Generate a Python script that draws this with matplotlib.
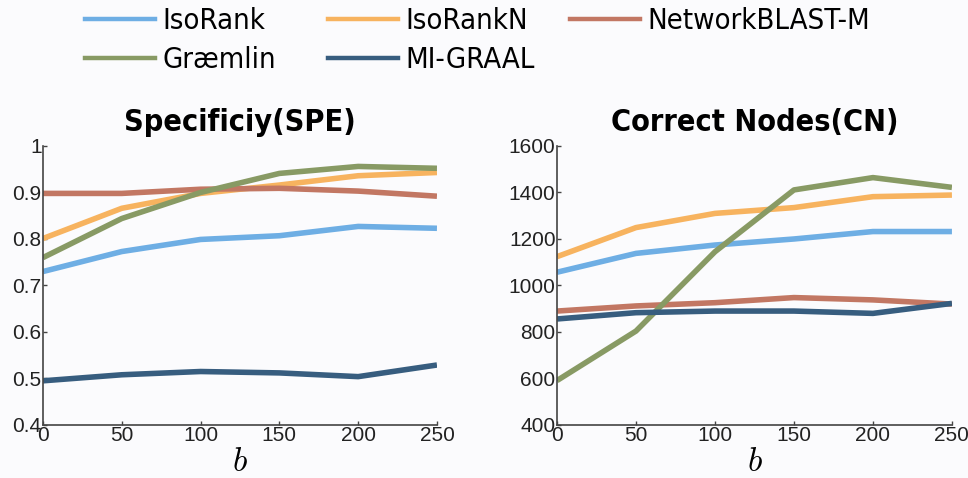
import matplotlib
matplotlib.use("Agg")
import matplotlib.pyplot as plt
from matplotlib.lines import Line2D
from matplotlib import font_manager as fm

b = [0, 50, 100, 150, 200, 250]
methods = ["IsoRank", "IsoRankN", "NetworkBLAST-M", "Græmlin", "MI-GRAAL"]
colors = ["#6eaee4", "#f7b35f", "#c27763", "#889a64", "#375d7f"]

spe_isorank = [0.730, 0.773, 0.799, 0.807, 0.827, 0.823]
spe_isorankn = [0.801, 0.866, 0.898, 0.916, 0.936, 0.943]
spe_nblast = [0.898, 0.898, 0.907, 0.909, 0.903, 0.892]
spe_graemlin = [0.760, 0.844, 0.900, 0.941, 0.956, 0.952]
spe_migraal = [0.495, 0.508, 0.515, 0.512, 0.504, 0.529]

cn_isorank = [1057, 1138, 1174, 1200, 1232, 1232]
cn_isorankn = [1124, 1249, 1310, 1335, 1382, 1389]
cn_nblast = [890, 912, 926, 948, 938, 920]
cn_graemlin = [591, 804, 1145, 1411, 1464, 1422]
cn_migraal = [856, 883, 890, 890, 880, 923]

spe = [spe_isorank, spe_isorankn, spe_nblast, spe_graemlin, spe_migraal]
cn = [cn_isorank, cn_isorankn, cn_nblast, cn_graemlin, cn_migraal]

spe_ticks = [0.4, 0.5, 0.6, 0.7, 0.8, 0.9, 1]
spe_ticklabels = ["0.4", "0.5", "0.6", "0.7", "0.8", "0.9", "1"]
cn_ticks = [400, 600, 800, 1000, 1200, 1400, 1600]
x_ticks = [0, 50, 100, 150, 200, 250]

plt.rcParams["mathtext.fontset"] = "cm"
tick_font = ["Liberation Sans", "DejaVu Sans"]


def is_cond(f):
    return (f.stretch in ("condensed", "semi-condensed", "extra-condensed")
            or "Narrow" in f.name or "Condensed" in f.name)


cond_path = None
cond_bold = None
for f in fm.fontManager.ttflist:
    if not is_cond(f) or f.style != "normal":
        continue
    if f.weight in ("normal", 400, "regular", "book") and cond_path is None:
        cond_path = f.fname
    if f.weight in ("bold", 700) and cond_bold is None:
        cond_bold = f.fname

if cond_path:
    leg_prop = fm.FontProperties(fname=cond_path, size=21)
else:
    leg_prop = fm.FontProperties(family=["Liberation Sans"], size=19)
if cond_bold:
    title_prop = fm.FontProperties(fname=cond_bold, size=22)
else:
    title_prop = fm.FontProperties(family=["Liberation Sans"], weight="bold", size=22)

bg = "#fbfbfd"
fig = plt.figure(figsize=(9.68, 4.78), dpi=100, facecolor=bg)
ax1 = fig.add_axes([0.0444, 0.1109, 0.407, 0.5837], facecolor=bg)
ax2 = fig.add_axes([0.5754, 0.1109, 0.408, 0.5837], facecolor=bg)

for ax, data, title, ylim, yt, ytl in [
    (ax1, spe, "Specificiy(SPE)", (0.4, 1.0), spe_ticks, spe_ticklabels),
    (ax2, cn, "Correct Nodes(CN)", (400, 1600), cn_ticks, [str(t) for t in cn_ticks]),
]:
    for i in range(len(methods)):
        ax.plot(b, data[i], color=colors[i], lw=4, solid_capstyle="butt",
                solid_joinstyle="round", label=methods[i])
    ax.set_xlim(0, 250)
    ax.set_ylim(*ylim)
    ax.set_xticks(x_ticks)
    ax.set_xticklabels([str(t) for t in x_ticks], fontfamily=tick_font, fontsize=15)
    ax.set_yticks(yt)
    ax.set_yticklabels(ytl, fontfamily=tick_font, fontsize=15)
    for s in ["top", "right"]:
        ax.spines[s].set_visible(False)
    for s in ["left", "bottom"]:
        ax.spines[s].set_color("#444444")
        ax.spines[s].set_linewidth(1.2)
    ax.tick_params(direction="in", length=3, width=1, color="#444444", pad=1,
                   labelcolor="#222222")
    ax.set_xlabel("$b$", fontsize=24, labelpad=0)
    ax.set_title(title, fontproperties=title_prop, pad=11)

handles = [Line2D([], [], color=c, lw=3.2) for c in colors]
columns = [([0, 3], 0.088), ([1, 4], 0.339), ([2], 0.589)]
for idxs, x0 in columns:
    fig.legend([handles[i] for i in idxs], [methods[i] for i in idxs],
               loc="upper left", bbox_to_anchor=(x0, 0.985), frameon=False,
               prop=leg_prop, handlelength=2.4, handletextpad=0.25,
               labelspacing=0.38, borderpad=0, borderaxespad=0)

fig.savefig("out.png", dpi=100, facecolor=bg)
